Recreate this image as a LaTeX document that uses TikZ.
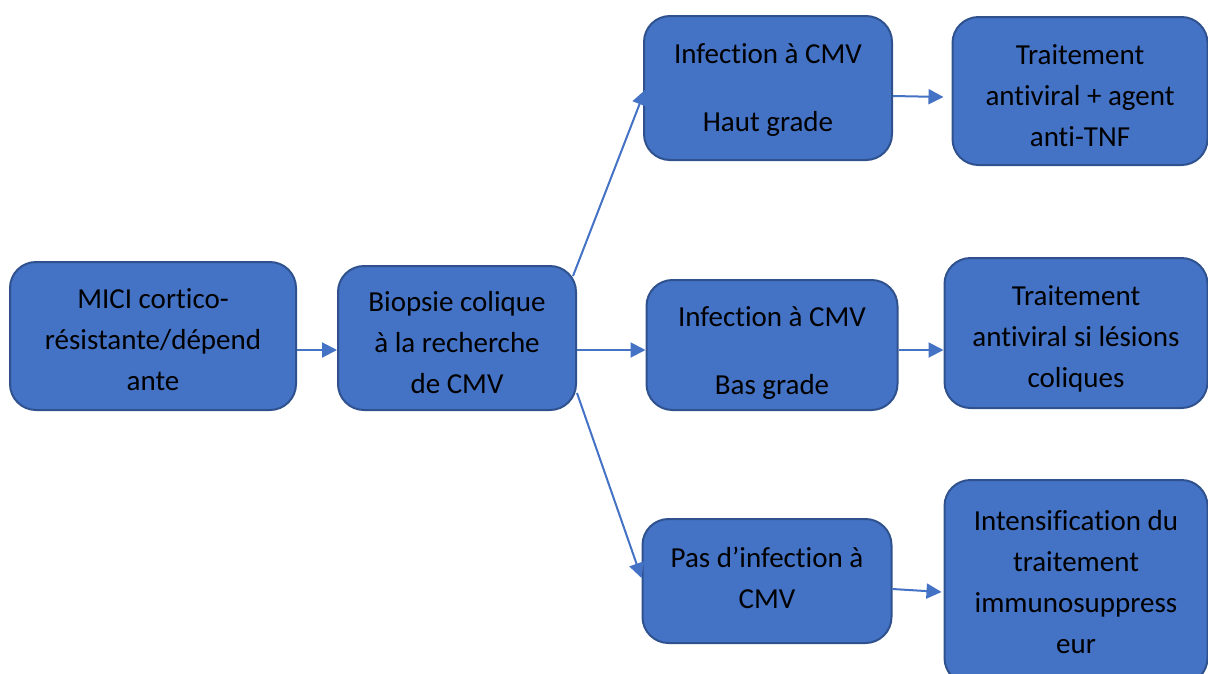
\documentclass[tikz,border=0pt]{standalone}
\usepackage{fontspec}
\setmainfont[Ligatures={NoCommon}]{Carlito}
\usetikzlibrary{arrows.meta}
\definecolor{office-blue}{HTML}{4472C4}
\definecolor{office-edge}{HTML}{2F528F}
\tikzset{
  flow-box/.style={
    draw=office-edge,
    fill=office-blue,
    line width=2pt,
    rounded corners=26pt,
    inner sep=0pt},
  box-text/.style={align=center, inner sep=0pt, font=\fontsize{29}{41}\selectfont},
  grade-text/.style={box-text, font=\fontsize{29}{34}\selectfont},
  flow-path/.style={draw=office-blue, line width=2pt, -{Triangle[length=15pt,width=15pt]}},
}

\begin{document}
\begin{tikzpicture}[x=1pt, y=-1pt]
\useasboundingbox (0,0) rectangle (1208,673);
% left column
\node[flow-box, minimum width=286pt, minimum height=148pt,
  label={[box-text, yshift=-4pt]center:MICI cortico-\\résistante/dépend\\ante}] (mici) at (153,336) {};
\node[flow-box, minimum width=238pt, minimum height=144pt,
  label={[box-text, yshift=-5pt]center:Biopsie colique\\à la recherche\\de CMV}] (biopsie) at (457,338) {};
% results of the biopsy
\node[flow-box, minimum width=248pt, minimum height=144pt,
  label={[grade-text, yshift=-2pt]center:Infection à CMV\\[34pt]Haut grade}] (haut) at (768,88) {};
\node[flow-box, minimum width=251pt, minimum height=130pt,
  label={[grade-text, yshift=-8pt]center:Infection à CMV\\[34pt]Bas grade}] (bas) at (772,345) {};
\node[flow-box, minimum width=249pt, minimum height=124pt,
  label={[box-text, yshift=3pt]center:Pas d’infection à\\CMV}] (pas) at (767,581) {};
% treatments
\node[flow-box, minimum width=255pt, minimum height=148pt,
  label={[box-text, yshift=-5pt]center:Traitement\\antiviral + agent\\anti-TNF}] (antiviral) at (1080,91) {};
\node[flow-box, minimum width=263pt, minimum height=150pt,
  label={[box-text, yshift=-6pt]center:Traitement\\antiviral si lésions\\coliques}] (lesions) at (1076,333) {};
\node[flow-box, minimum width=263pt, minimum height=204pt,
  label={[box-text]center:Intensification du\\traitement\\immunosuppress\\eur}] (intens) at (1076,582) {};
% connectors
\draw[flow-path] ([yshift=-14pt]mici.east) -- ([yshift=-12pt]biopsie.west);
\draw[flow-path] ([xshift=-4pt,yshift=-11pt]biopsie.north east) -- ([xshift=2pt,yshift=-2pt]haut.west);
\draw[flow-path] ([yshift=-12pt]biopsie.east) -- ([yshift=-5pt]bas.west);
\draw[flow-path] ([yshift=18pt]biopsie.south east) -- ([yshift=3pt]pas.west);
\draw[flow-path] ([yshift=-8pt]haut.east) -- ([xshift=-8pt,yshift=-6pt]antiviral.west);
\draw[flow-path] ([yshift=-5pt]bas.east) -- ([yshift=-17pt]lesions.west);
\draw[flow-path] ([yshift=-8pt]pas.east) -- ([xshift=-2pt,yshift=-10pt]intens.west);
\end{tikzpicture}
\end{document}
